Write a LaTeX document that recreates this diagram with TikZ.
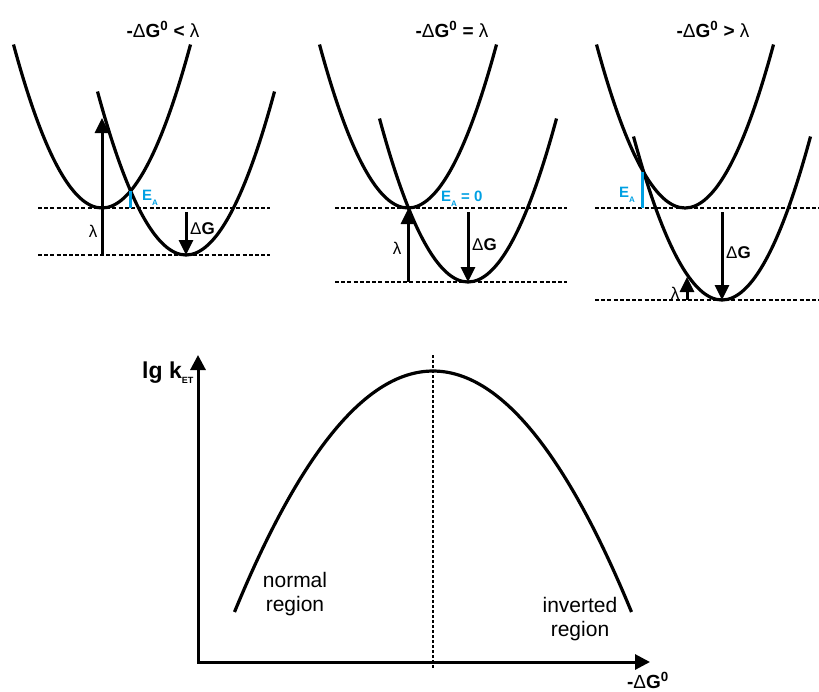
\documentclass[tikz,border=0pt]{standalone}
\usepackage{fontspec}
\setmainfont{Liberation Sans}
\usetikzlibrary{arrows.meta}
\definecolor{eablue}{RGB}{0,160,227}
\newcommand\mparab[2]{\draw[curve] ({#1-88.5},{#2-163.5}) .. controls ({#1-29.5},{#2+54.5}) and ({#1+29.5},{#2+54.5}) .. ({#1+88.5},{#2-163.5});}
\newcommand\subA{\raisebox{-0.3em}{\fontsize{8}{9}\selectfont A}}
\begin{document}
\begin{tikzpicture}[x=1pt,y=-1pt,
  curve/.style={line width=3.2pt},
  level/.style={line width=1.6pt, dash pattern=on 4pt off 2.2pt},
  vecarrow/.style={line width=3pt,-{Triangle[length=15pt,width=14pt]}},
  ealine/.style={line width=3pt, draw=eablue},
  title/.style={font=\fontsize{19}{21}\selectfont\bfseries, anchor=base, inner sep=0pt},
  lbl/.style={font=\fontsize{17}{19}\selectfont\bfseries, inner sep=0pt},
  lam/.style={font=\fontsize{17}{19}\selectfont, inner sep=0pt},
  ea/.style={font=\fontsize{15}{17}\selectfont\bfseries, text=eablue, inner sep=0pt},
  region/.style={font=\fontsize{21}{24}\selectfont, align=center, inner sep=0pt},
]
\useasboundingbox (0,0) rectangle (819,691);

% ---------- Panel 1 ----------
\node[title] (t1) at (163,37) {-{\mdseries Δ}G\textsuperscript{0} < {\mdseries λ}};
\draw[level] (38,208) -- (270,208);
\draw[level] (38,255) -- (270,255);
\mparab{102}{208}
\mparab{186}{255}
\coordinate (l1b) at (102,255);
\coordinate (l1t) at (102,118);
\draw[vecarrow] (l1b) -- (l1t);
\node[lam] (lam1) at (93,231) {λ};
\coordinate (ea1t) at (130.6,191);
\coordinate (ea1b) at (130.6,208);
\draw[ealine] (ea1t) -- (ea1b);
\node[ea, anchor=west] (ea1) at (142,198) {E\subA};
\coordinate (g1t) at (186,212);
\coordinate (g1b) at (186,255);
\draw[vecarrow] (g1t) -- (g1b);
\node[lbl, anchor=west] (dg1) at (190,229) {{\mdseries Δ}G};

% ---------- Panel 2 ----------
\node[title] (t2) at (452,37) {-{\mdseries Δ}G\textsuperscript{0} = {\mdseries λ}};
\draw[level] (335,208) -- (567,208);
\draw[level] (335,282) -- (567,282);
\mparab{408}{208}
\mparab{468}{282}
\coordinate (l2b) at (408,282);
\coordinate (l2t) at (408,209);
\draw[vecarrow] (l2b) -- (l2t);
\node[lam] (lam2) at (397,248) {λ};
\node[ea, anchor=west] (ea2) at (441,199) {E\subA{} = 0};
\coordinate (g2t) at (468,212);
\coordinate (g2b) at (468,282);
\draw[vecarrow] (g2t) -- (g2b);
\node[lbl, anchor=west] (dg2) at (472,245) {{\mdseries Δ}G};

% ---------- Panel 3 ----------
\node[title] (t3) at (713,37) {-{\mdseries Δ}G\textsuperscript{0} > {\mdseries λ}};
\draw[level] (595,208) -- (819,208);
\draw[level] (595,300) -- (819,300);
\mparab{685}{208}
\mparab{722}{300}
\coordinate (ea3t) at (642,172);
\coordinate (ea3b) at (642,208);
\draw[ealine] (ea3t) -- (ea3b);
\node[ea, anchor=west] (ea3) at (619,195) {E\subA};
\coordinate (g3t) at (722,212);
\coordinate (g3b) at (722,300);
\draw[vecarrow] (g3t) -- (g3b);
\node[lbl, anchor=west] (dg3) at (726,253) {{\mdseries Δ}G};
\coordinate (l3b) at (687,300);
\coordinate (l3t) at (687,277);
\draw[vecarrow] (l3b) -- (l3t);
\node[lam] (lam3) at (675,293) {λ};

% ---------- Bottom graph ----------
\coordinate (ytop) at (198,355);
\coordinate (orig) at (198,662);
\coordinate (xend) at (650,662);
\draw[line width=3pt, {Triangle[length=15pt,width=15pt]}-{Triangle[length=15pt,width=15pt]}] (ytop) -- (orig) -- (xend);
\coordinate (vtop) at (433,355);
\coordinate (vbot) at (433,668);
\draw[line width=1.7pt, dash pattern=on 3pt off 2pt] (vtop) -- (vbot);
\draw[curve] (234.5,612) .. controls (366.8,290.7) and (499.2,290.7) .. (631.5,612);
\node[font=\fontsize{23}{25}\selectfont\bfseries, anchor=base west, inner sep=0pt] (lgk) at (142,378) {lg k\raisebox{-0.25em}{\fontsize{9}{10}\selectfont ET}};
\node[title] (xlab) at (648,688) {-{\mdseries Δ}G\textsuperscript{0}};
\node[region] (normal) at (295,594) {normal\\region};
\node[region] (inverted) at (580,619) {inverted\\region};
\end{tikzpicture}
\end{document}
